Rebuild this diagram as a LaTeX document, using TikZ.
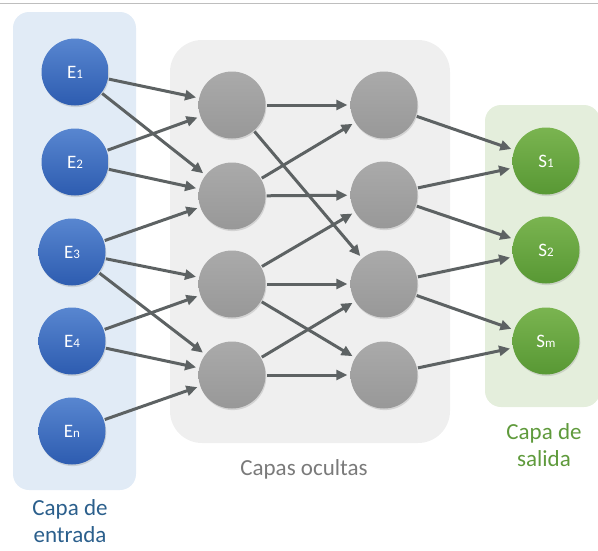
\documentclass[tikz,border=0pt]{standalone}
\usepackage{fontspec}
\setmainfont{Carlito}
\usetikzlibrary{arrows.meta,shadows}
\definecolor{panelblue}{HTML}{E1EBF6}
\definecolor{panelgray}{HTML}{EFEFEF}
\definecolor{panelgreen}{HTML}{E4EEDC}
\definecolor{conncol}{HTML}{5D6263}
\definecolor{txtblue}{HTML}{2B5F8C}
\definecolor{txtgreen}{HTML}{5F9A3C}
\definecolor{txtgray}{HTML}{7A7A7A}
\definecolor{inptop}{RGB}{88,134,208}
\definecolor{inpbot}{RGB}{45,92,176}
\definecolor{hidtop}{RGB}{170,170,170}
\definecolor{hidbot}{RGB}{152,152,152}
\definecolor{outtop}{RGB}{122,180,80}
\definecolor{outbot}{RGB}{88,152,52}
\definecolor{linegray}{RGB}{190,190,190}
\newcommand{\lbl}[2]{{\fontsize{19}{19}\selectfont #1\fontsize{13}{13}\selectfont #2}}
\tikzset{
  neuron/.style={circle, minimum size=67pt, inner sep=0pt, text=white,
    drop shadow={opacity=0.25, shadow xshift=0.8pt, shadow yshift=-1.6pt}},
  inp/.style={neuron, top color=inptop, bottom color=inpbot},
  hid/.style={neuron, top color=hidtop, bottom color=hidbot},
  outn/.style={neuron, top color=outtop, bottom color=outbot},
  conn/.style={draw=conncol, line width=3pt, -{Triangle[length=11pt,width=10pt]}, shorten >=3pt, shorten <=1pt},
  panel/.style={rounded corners=#1},
  caption/.style={inner sep=0pt, align=center, font=\fontsize{23}{27}\selectfont}
}
\begin{document}
\begin{tikzpicture}[x=1pt,y=-1pt]
\useasboundingbox (0,0) rectangle (598,550);
\draw[linegray, line width=1pt] (0,3) -- (598,3);
% panels
\fill[panelblue, panel=16pt] (13,12) rectangle (136,490);
\fill[panelgray, panel=32pt] (170,40) rectangle (450,443);
\fill[panelgreen, panel=16pt] (485,105) rectangle (600,407);
% labels
\node[caption, text=txtblue] (lin) at (70,521) {Capa de\\entrada};
\node[caption, text=txtgray] (lhid) at (304,469) {Capas ocultas};
\node[caption, text=txtgreen] (lout) at (544,445) {Capa de\\salida};
% input nodes
\node[inp] (e1) at (75,72) {\lbl{E}{1}};
\node[inp] (e2) at (75,162) {\lbl{E}{2}};
\node[inp] (e3) at (72,252) {\lbl{E}{3}};
\node[inp] (e4) at (72,341) {\lbl{E}{4}};
\node[inp] (e5) at (72,431) {\lbl{E}{n}};
% hidden 1
\node[hid] (h1) at (232,105) {};
\node[hid] (h2) at (232,196) {};
\node[hid] (h3) at (232,284) {};
\node[hid] (h4) at (232,375) {};
% hidden 2
\node[hid] (g1) at (384,105) {};
\node[hid] (g2) at (384,195) {};
\node[hid] (g3) at (384,284) {};
\node[hid] (g4) at (384,375) {};
% outputs
\node[outn] (s1) at (546,161) {\lbl{S}{1}};
\node[outn] (s2) at (546,250) {\lbl{S}{2}};
\node[outn] (s3) at (546,341) {\lbl{S}{m}};
% connections
\foreach \a/\b in {e1/h1,e1/h2,e2/h1,e2/h2,e3/h2,e3/h3,e3/h4,e4/h3,e4/h4,e5/h4,
  h1/g1,h1/g3,h2/g1,h2/g2,h3/g2,h3/g3,h3/g4,h4/g3,h4/g4,
  g1/s1,g2/s1,g2/s2,g3/s2,g3/s3,g4/s3}
  \draw[conn] (\a) -- (\b);
\end{tikzpicture}
\end{document}
